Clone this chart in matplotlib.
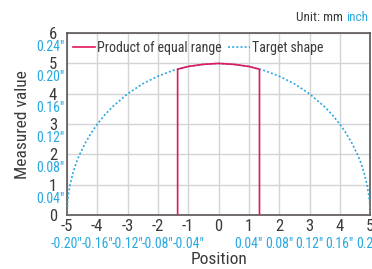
import matplotlib
matplotlib.use("Agg")
import matplotlib.pyplot as plt
from matplotlib.transforms import blended_transform_factory

plt.rcParams["font.family"] = ["Roboto Condensed", "DejaVu Sans"]

# Data (mm)
target_x = [-5.0, -4.98, -4.95, -4.9, -4.8, -4.7, -4.6, -4.4, -4.2, -4.0, -3.75, -3.5,
            -3.0, -2.5, -2.0, -1.5, -1.0, -0.5, 0.0, 0.5, 1.0, 1.5, 2.0, 2.5,
            3.0, 3.5, 3.75, 4.0, 4.2, 4.4, 4.6, 4.7, 4.8, 4.9, 4.95, 4.98, 5.0]
target_y = [0.0, 0.45, 0.70, 0.99, 1.40, 1.71, 1.96, 2.37, 2.71, 3.00, 3.31, 3.57,
            4.00, 4.33, 4.58, 4.77, 4.90, 4.97, 5.00, 4.97, 4.90, 4.77, 4.58, 4.33,
            4.00, 3.57, 3.31, 3.00, 2.71, 2.37, 1.96, 1.71, 1.40, 0.99, 0.70, 0.45, 0.0]

product_x = [-1.35, -1.35, -1.0, -0.5, 0.0, 0.5, 1.0, 1.35, 1.35]
product_y = [0.0, 4.81, 4.90, 4.97, 5.00, 4.97, 4.90, 4.81, 0.0]

x_ticks = [-5, -4, -3, -2, -1, 0, 1, 2, 3, 4, 5]
x_inch = ['-0.20"', '-0.16"', '-0.12"', '-0.08"', '-0.04"', "",
          '0.04"', '0.08"', '0.12"', '0.16"', '0.20"']
y_ticks = [0, 1, 2, 3, 4, 5, 6]
y_inch = ["", '0.04"', '0.08"', '0.12"', '0.16"', '0.20"', '0.24"']

dark = "#3a3a3a"
blue = "#29a9e1"
red = "#e2175e"

fig = plt.figure(figsize=(3.72, 2.69), dpi=100)
ax = fig.add_axes([0.180, 0.200, 0.815, 0.677])

ax.plot(target_x, target_y, color=blue, lw=1.2, ls=(0, (1.2, 1.3)),
        label="Target shape", zorder=3)
ax.plot(product_x, product_y, color=red, lw=1.2, label="Product of equal range",
        zorder=4)

ax.set_xlim(-5, 5)
ax.set_ylim(0, 6)
ax.set_xticks(x_ticks)
ax.set_yticks(y_ticks)
ax.set_xticklabels([str(t) for t in x_ticks])
ax.set_yticklabels([str(t) for t in y_ticks])
ax.tick_params(length=0, labelsize=12, labelcolor=dark)
ax.tick_params(axis="x", pad=3)
ax.tick_params(axis="y", pad=10)
for lab in ax.get_yticklabels():
    lab.set_ha("center")
ax.grid(True, color="#d4d4d4", lw=1.0)
ax.set_axisbelow(True)
for s in ax.spines.values():
    s.set_color("#5a5555")
    s.set_linewidth(1.2)

# inch tick labels in blue under the mm labels
tx = blended_transform_factory(ax.transData, ax.transAxes)
for v, t in zip(x_ticks, x_inch):
    ax.annotate(t, xy=(v, 0), xycoords=tx, xytext=(0, -20.5), textcoords="offset points",
                ha="center", va="center", color=blue, fontsize=10, annotation_clip=False)
ty = blended_transform_factory(ax.transAxes, ax.transData)
for v, t in zip(y_ticks, y_inch):
    ax.annotate(t, xy=(0, v), xycoords=ty, xytext=(-12, -10), textcoords="offset points",
                ha="center", va="center", color=blue, fontsize=10, annotation_clip=False)

ax.set_xlabel("Position", fontsize=12.5, color=dark, labelpad=12.5)
ax.set_ylabel("Measured value", fontsize=12.5, color=dark, labelpad=14)

handles, labels = ax.get_legend_handles_labels()
ax.legend(handles[::-1], labels[::-1], loc="center left",
          bbox_to_anchor=(0.02, 0.92), borderpad=0, borderaxespad=0,
          ncol=2, frameon=False, fontsize=10, handlelength=1.6, handletextpad=0.1,
          columnspacing=0.5, labelcolor=dark)

# "Unit: mm inch" in the top right corner, "inch" in blue
unit = fig.text(0.795, 0.935, "Unit: mm ", ha="left", va="center", fontsize=9.5, color=dark)
ax.annotate("inch", xy=(1, 0.5), xycoords=unit, ha="left", va="center",
            fontsize=9.5, color=blue, annotation_clip=False)

fig.savefig("out.png", dpi=100)
